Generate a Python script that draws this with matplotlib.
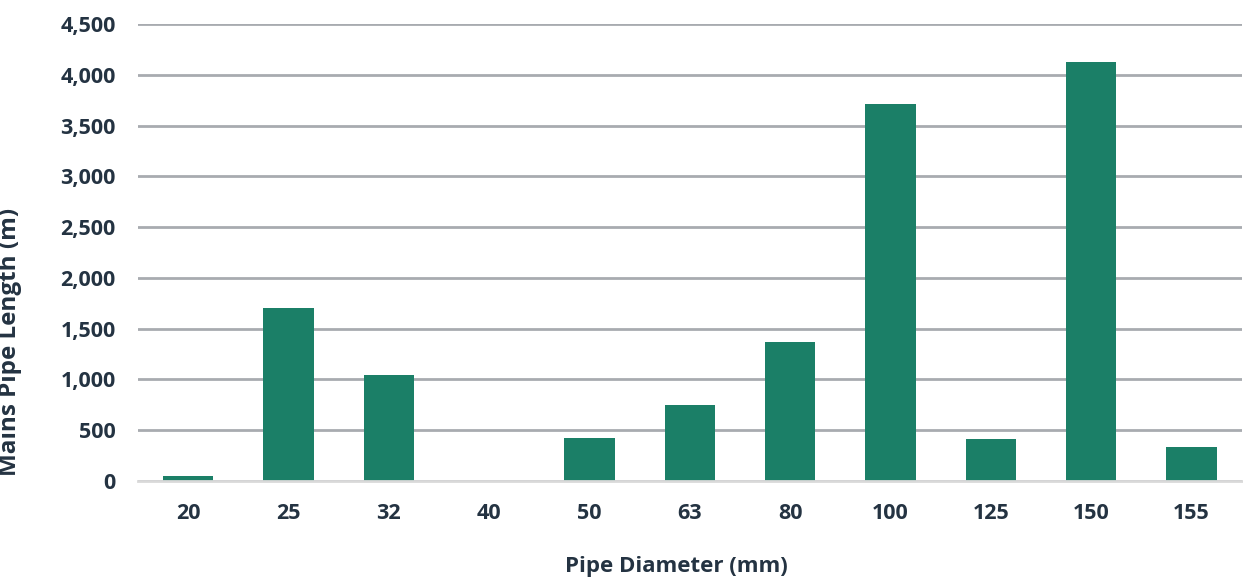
import matplotlib.pyplot as plt
from matplotlib.ticker import FuncFormatter

# data
diameters = ["20", "25", "32", "40", "50", "63", "80", "100", "125", "150", "155"]
lengths = [45, 1700, 1045, 0, 425, 750, 1370, 3715, 410, 4130, 335]
y_ticks = [0, 500, 1000, 1500, 2000, 2500, 3000, 3500, 4000, 4500]

bar_color = "#1b7f67"
text_color = "#243342"

plt.rcParams['font.family'] = ['Open Sans', 'DejaVu Sans']
plt.rcParams['font.weight'] = 'bold'

fig = plt.figure(figsize=(12.43, 5.84), dpi=100)
ax = fig.add_axes([0.111, 0.1764, 0.888, 0.7825])

x = range(len(diameters))
ax.bar(x, lengths, width=0.5, color=bar_color, zorder=3)

ax.set_xlim(-0.5, len(diameters) - 0.5)
ax.set_ylim(0, 4500)
ax.set_yticks(y_ticks)
ax.yaxis.set_major_formatter(FuncFormatter(lambda v, p: f"{int(v):,}"))
ax.set_xticks(list(x))
ax.set_xticklabels(diameters)

ax.grid(axis='y', color="#a8abb0", linewidth=2, zorder=0)
for s in ["top", "right", "left"]:
    ax.spines[s].set_visible(False)
ax.spines["bottom"].set_color("#d9d9d9")
ax.spines["bottom"].set_linewidth(2)
ax.spines["bottom"].set_zorder(4)

ax.tick_params(axis='both', length=0, labelsize=15.5, colors=text_color, pad=16)
for lbl in ax.get_xticklabels() + ax.get_yticklabels():
    lbl.set_fontweight('bold')

ax.set_xlabel("Pipe Diameter (mm)", fontsize=16, fontweight='bold',
              color=text_color)
ax.set_ylabel("Mains Pipe Length (m)", fontsize=17.5, fontweight='bold',
              color=text_color)
ax.xaxis.set_label_coords(0.488, -0.165)
ax.yaxis.set_label_coords(-0.105, 0.305)

fig.savefig("out.png", dpi=100)
